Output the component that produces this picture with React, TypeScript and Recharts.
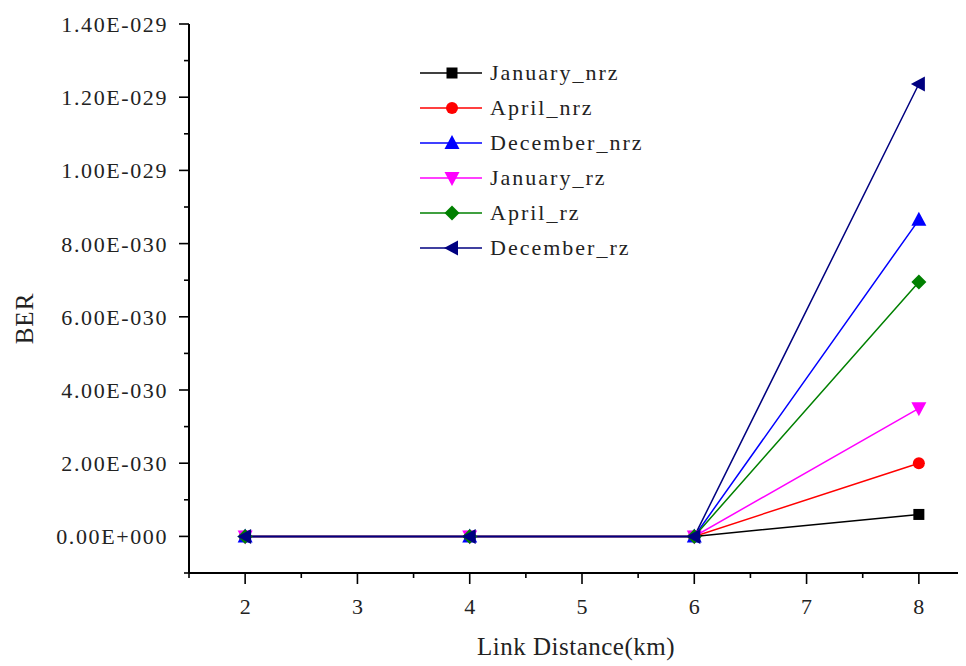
import React from 'react';
import { LineChart, Line, XAxis, YAxis, Legend } from 'recharts';

// ---- data ----
const distance = [2, 4, 6, 8];
const januaryNrz = [0, 0, 0, 6.0e-31];
const aprilNrz = [0, 0, 0, 2.0e-30];
const decemberNrz = [0, 0, 0, 8.65e-30];
const januaryRz = [0, 0, 0, 3.5e-30];
const aprilRz = [0, 0, 0, 6.95e-30];
const decemberRz = [0, 0, 0, 1.236e-29];

const seriesNames = ['January_nrz', 'April_nrz', 'December_nrz', 'January_rz', 'April_rz', 'December_rz'];
const seriesValues = [januaryNrz, aprilNrz, decemberNrz, januaryRz, aprilRz, decemberRz];
const seriesColors = ['#000000', '#ff0000', '#0000ff', '#ff00ff', '#008000', '#000080'];
const seriesShapes = ['square', 'circle', 'up', 'down', 'diamond', 'left'];

const xTicks = [1.5, 2, 2.5, 3, 3.5, 4, 4.5, 5, 5.5, 6, 6.5, 7, 7.5, 8, 8.5];
const xMajor = [2, 3, 4, 5, 6, 7, 8];
const yTicks = [-1e-30, 0, 1e-30, 2e-30, 3e-30, 4e-30, 5e-30, 6e-30, 7e-30, 8e-30, 9e-30, 1e-29, 1.1e-29, 1.2e-29, 1.3e-29, 1.4e-29];
const yMajor = [0, 2e-30, 4e-30, 6e-30, 8e-30, 1e-29, 1.2e-29, 1.4e-29];

const data = distance.map((d, i) => {
  const row: any = { x: d };
  seriesNames.forEach((n, k) => {
    row[n] = seriesValues[k][i];
  });
  return row;
});

const FONT = '"Liberation Serif", "Times New Roman", serif';
const TEXT = '#222222';
const TICK_SIZE = 10;

function fmtY(v: number) {
  const s = v.toExponential(2); // e.g. 2.00e-30
  const [m, e] = s.split('e');
  const sign = e[0] === '-' ? '-' : '+';
  const digits = e.replace(/^[+-]/, '').padStart(3, '0');
  return `${m}E${sign}${digits}`;
}

function isMajor(list: number[], v: number) {
  return list.some((m) => Math.abs(m - v) <= Math.abs(m) * 1e-6 + 1e-40);
}

function Marker({ shape, cx, cy, color }: any) {
  switch (shape) {
    case 'square':
      return <rect x={cx - 5.5} y={cy - 5.5} width={11} height={11} fill={color} />;
    case 'circle':
      return <circle cx={cx} cy={cy} r={6} fill={color} />;
    case 'up':
      return <polygon points={`${cx},${cy - 8} ${cx - 7.5},${cy + 6} ${cx + 7.5},${cy + 6}`} fill={color} />;
    case 'down':
      return <polygon points={`${cx},${cy + 8} ${cx - 7.5},${cy - 6} ${cx + 7.5},${cy - 6}`} fill={color} />;
    case 'diamond':
      return <polygon points={`${cx},${cy - 7.5} ${cx + 7.5},${cy} ${cx},${cy + 7.5} ${cx - 7.5},${cy}`} fill={color} />;
    case 'left':
      return <polygon points={`${cx - 8},${cy} ${cx + 6},${cy - 7.5} ${cx + 6},${cy + 7.5}`} fill={color} />;
    default:
      return null;
  }
}

const YTick = (props: any) => {
  const { x, y, payload } = props;
  const ax = x + TICK_SIZE;
  const major = isMajor(yMajor, payload.value);
  return (
    <g>
      <line x1={ax - (major ? 10 : 5)} x2={ax} y1={y} y2={y} stroke="#000" strokeWidth={1.6} />
      {major && (
        <text x={ax - 21} y={y} dy="0.36em" textAnchor="end" fontFamily={FONT} fontSize={22} fill={TEXT} letterSpacing={1.6}>
          {fmtY(payload.value)}
        </text>
      )}
    </g>
  );
};

const XTick = (props: any) => {
  const { x, y, payload } = props;
  const ay = y - TICK_SIZE;
  const major = isMajor(xMajor, payload.value);
  return (
    <g>
      <line x1={x} x2={x} y1={ay} y2={ay + (major ? 11 : 5)} stroke="#000" strokeWidth={1.6} />
      {major && (
        <text x={x} y={ay + 33} dy="0.36em" textAnchor="middle" fontFamily={FONT} fontSize={22} fill={TEXT}>
          {payload.value}
        </text>
      )}
    </g>
  );
};

const renderLegend = () => (
  <svg width={260} height={215} style={{ display: 'block' }}>
    {seriesNames.map((n, i) => {
      const cy = 18 + i * 35;
      return (
        <g key={n}>
          <line x1={8} x2={70} y1={cy} y2={cy} stroke={seriesColors[i]} strokeWidth={1.6} />
          <Marker shape={seriesShapes[i]} cx={40} cy={cy} color={seriesColors[i]} />
          <text x={78} y={cy} dy="0.34em" fontFamily={FONT} fontSize={22} fill={TEXT} letterSpacing={2}>
            {n}
          </text>
        </g>
      );
    })}
  </svg>
);

export default function App() {
  return (
    <div style={{ width: 958, height: 658, overflow: 'hidden', background: '#fff' }}>
      <LineChart width={1000} height={658} data={data} margin={{ top: 16, right: 33, bottom: 13, left: 0 }}>
        <XAxis
          type="number"
          dataKey="x"
          domain={[1.5, 8.5]}
          ticks={xTicks}
          interval={0}
          height={80}
          tickSize={TICK_SIZE}
          tickMargin={0}
          tickLine={false}
          axisLine={{ stroke: '#000', strokeWidth: 2 }}
          tick={<XTick />}
          label={(p: any) => {
            const vb = p.viewBox;
            return (
              <text x={vb.x + vb.width / 2 - 6} y={vb.y + 82} textAnchor="middle" fontFamily={FONT} fontSize={25} fill={TEXT} letterSpacing={0.5}>
                Link Distance(km)
              </text>
            );
          }}
        />
        <YAxis
          type="number"
          domain={[-1e-30, 1.4e-29]}
          ticks={yTicks}
          interval={0}
          width={181}
          tickSize={TICK_SIZE}
          tickMargin={0}
          tickLine={false}
          axisLine={{ stroke: '#000', strokeWidth: 2 }}
          tick={<YTick />}
          allowDataOverflow
          label={(p: any) => {
            const vb = p.viewBox;
            const cx = 16;
            const cy = vb.y + vb.height / 2 + 20;
            return (
              <text x={cx} y={cy} transform={`rotate(-90 ${cx} ${cy})`} textAnchor="middle" dy="0.35em" fontFamily={FONT} fontSize={25} fill={TEXT} letterSpacing={1}>
                BER
              </text>
            );
          }}
        />
        <Legend
          layout="vertical"
          align="center"
          verticalAlign="middle"
          content={renderLegend}
          wrapperStyle={{ left: 404, top: 47, width: 260, height: 215 }}
        />
        {seriesNames.map((n, i) => (
          <Line
            key={n}
            dataKey={n}
            name={n}
            type="linear"
            stroke={seriesColors[i]}
            strokeWidth={1.5}
            isAnimationActive={false}
            dot={(dp: any) => (
              <Marker key={`${n}-${dp.index}`} shape={seriesShapes[i]} cx={dp.cx} cy={dp.cy} color={seriesColors[i]} />
            )}
            activeDot={false}
          />
        ))}
      </LineChart>
    </div>
  );
}
